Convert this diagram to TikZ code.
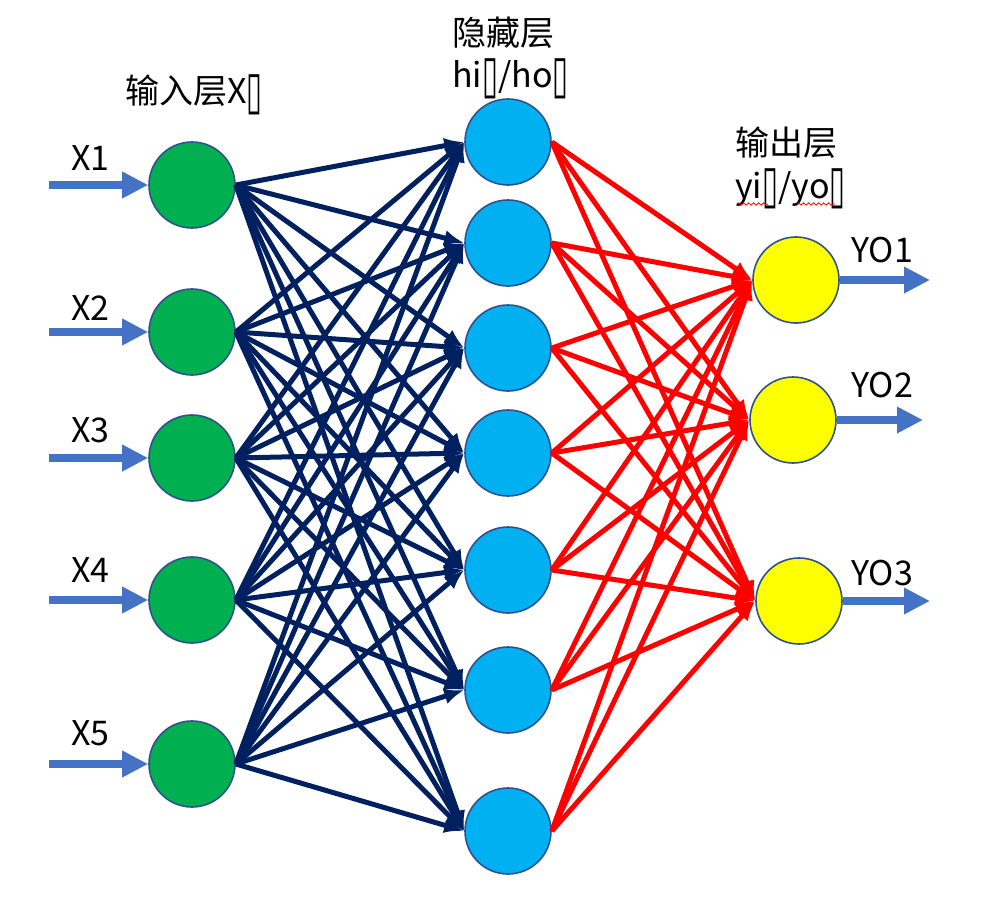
\documentclass[tikz,border=0pt]{standalone}
\usepackage{graphicx}
\usepackage{fontspec}
\setmainfont{Noto Sans CJK SC}
\newfontfamily\boxfont{DejaVu Sans}
\usetikzlibrary{arrows.meta, decorations.pathmorphing}
\definecolor{ingreen}{RGB}{0,176,80}
\definecolor{hidblue}{RGB}{0,176,240}
\definecolor{outyellow}{RGB}{255,255,0}
\definecolor{rimblue}{RGB}{47,82,143}
\definecolor{arrowblue}{RGB}{68,114,196}
\definecolor{navy}{RGB}{0,32,96}
\newcommand{\tofu}{\raisebox{-0.12em}{\scalebox{0.85}[1.55]{\boxfont ▯}}}

\begin{document}
\begin{tikzpicture}[x=1pt,y=-1pt,
  neuron/.style={circle, draw=rimblue, line width=1.6pt, minimum size=86pt, inner sep=0pt},
  lbl/.style={font=\fontsize{34}{40}\selectfont, inner sep=0pt},
  ioarrow/.style={arrowblue, line width=8pt, -{Triangle[length=26pt,width=25pt]}},
  wgt/.style={line width=5pt, -{Latex[length=20pt,width=16pt]}},
  spell/.style={red, line width=0.8pt, decorate, decoration={snake, amplitude=1.2pt, segment length=5pt}}
]
\useasboundingbox (0,0) rectangle (984,920);

% layers
\foreach \n/\y in {1/185,2/332,3/458,4/600,5/764}
  \node[neuron, fill=ingreen] (x\n) at (192,\y) {};
\foreach \n/\y in {1/142,2/243,3/348,4/453,5/570,6/690,7/831}
  \node[neuron, fill=hidblue] (h\n) at (508,\y) {};
\foreach \n/\x/\y in {1/796/280,2/793/420,3/799/601}
  \node[neuron, fill=outyellow] (o\n) at (\x,\y) {};

% inputs
\foreach \n/\y/\b in {1/185/171,2/332/320,3/458/442,4/600/582,5/764/745} {
  \coordinate (xin\n) at (49,\y);
  \draw[ioarrow] (xin\n) -- (x\n.west);
  \node[lbl, anchor=base west] (xl\n) at (71,\b) {X\n};
}

% outputs
\foreach \n/\e/\b in {1/930/262,2/923/397,3/930/585} {
  \coordinate (yout\n) at (\e,0 |- o\n);
  \draw[ioarrow] (o\n.east) -- (yout\n);
  \node[lbl, anchor=base west] (yl\n) at (851,\b) {YO\n};
}

% weights
\foreach \i in {1,...,5}
  \foreach \j in {1,...,7}
    \draw[wgt, navy] (x\i.east) -- (h\j.west);
\foreach \j in {1,...,7}
  \foreach \k in {1,2,3}
    \draw[wgt, red] (h\j.east) -- (o\k.west);

% titles
\node[lbl, anchor=base west] (intitle) at (125,104) {输入层X\tofu};
\node[lbl, anchor=base west] (hidtitle) at (452,46) {隐藏层};
\node[lbl, anchor=base west] (hidvars) at (452,88) {hi\tofu/ho\tofu};
\node[lbl, anchor=base west] (outtitle) at (735,156) {输出层};
\node[lbl, anchor=base west] (outvars) at (735,198) {yi\tofu/yo\tofu};
\draw[spell] (737,204) -- (768,204);
\draw[spell] (797,204) -- (835,204);
\end{tikzpicture}
\end{document}
